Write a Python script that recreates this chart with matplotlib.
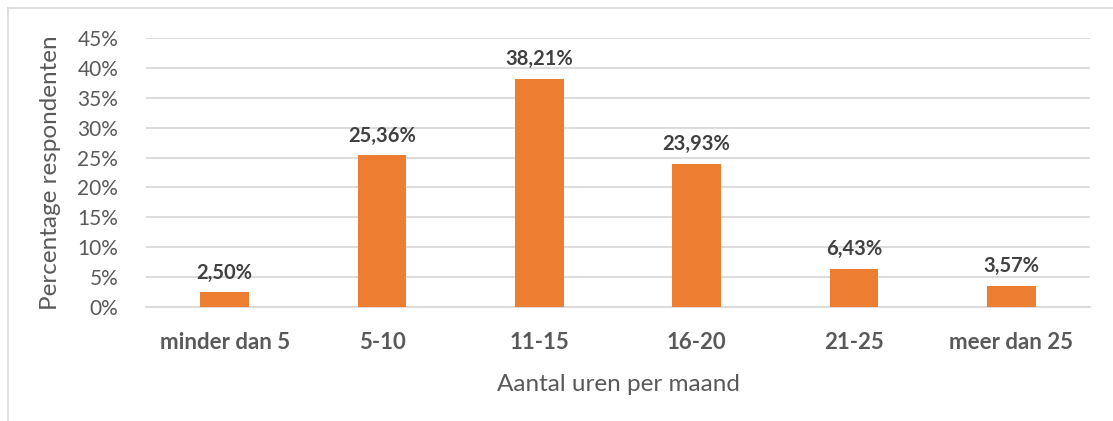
import matplotlib; matplotlib.use("Agg")
import matplotlib.pyplot as plt
from matplotlib.ticker import FuncFormatter

categories = ["minder dan 5", "5-10", "11-15", "16-20", "21-25", "meer dan 25"]
values = [2.50, 25.36, 38.21, 23.93, 6.43, 3.57]
labels = ["2,50%", "25,36%", "38,21%", "23,93%", "6,43%", "3,57%"]
yticks = [0, 5, 10, 15, 20, 25, 30, 35, 40, 45]

plt.rcParams["font.family"] = ["Lato", "DejaVu Sans"]
TXT = "#595959"

fig = plt.figure(figsize=(11.13, 4.21), dpi=100)
ax = fig.add_axes([0.1312, 0.2708, 0.848, 0.639])

x = range(len(categories))
ax.bar(x, values, width=0.31, color="#ED7D31", zorder=3)
for xi, v, lab in zip(x, values, labels):
    ax.text(xi, v + 1.6, lab, ha="center", va="bottom", fontsize=14.5,
            fontweight="bold", color="#404040")

ax.set_xlim(-0.5, len(categories) - 0.5)
ax.set_ylim(0, 45)
ax.set_yticks(yticks)
ax.yaxis.set_major_formatter(FuncFormatter(lambda v, p: f"{v:.0f}%"))
ax.grid(axis="y", color="#D9D9D9", lw=1.3, zorder=0)
for s in ["top", "right", "left"]:
    ax.spines[s].set_visible(False)
ax.spines["bottom"].set_color("#D9D9D9")
ax.spines["bottom"].set_linewidth(1.3)
ax.tick_params(length=0)
ax.tick_params(axis="y", labelsize=15, labelcolor=TXT, pad=20)
ax.set_xticks(list(x))
ax.set_xticklabels(categories, fontsize=16, fontweight="bold", color=TXT)
ax.tick_params(axis="x", pad=18)
ax.set_xlabel("Aantal uren per maand", fontsize=17.5, color=TXT, labelpad=15)
ax.set_ylabel("Percentage respondenten", fontsize=17.5, color=TXT, labelpad=12)

# chart frame (left and top edges visible)
fig.add_artist(plt.Line2D([0.0075, 0.0075], [0, 0.981], color="#D9D9D9", lw=1.2,
                          transform=fig.transFigure))
fig.add_artist(plt.Line2D([0.0075, 1.0], [0.981, 0.981], color="#D9D9D9", lw=1.2,
                          transform=fig.transFigure))

fig.savefig("out.png", dpi=100)
